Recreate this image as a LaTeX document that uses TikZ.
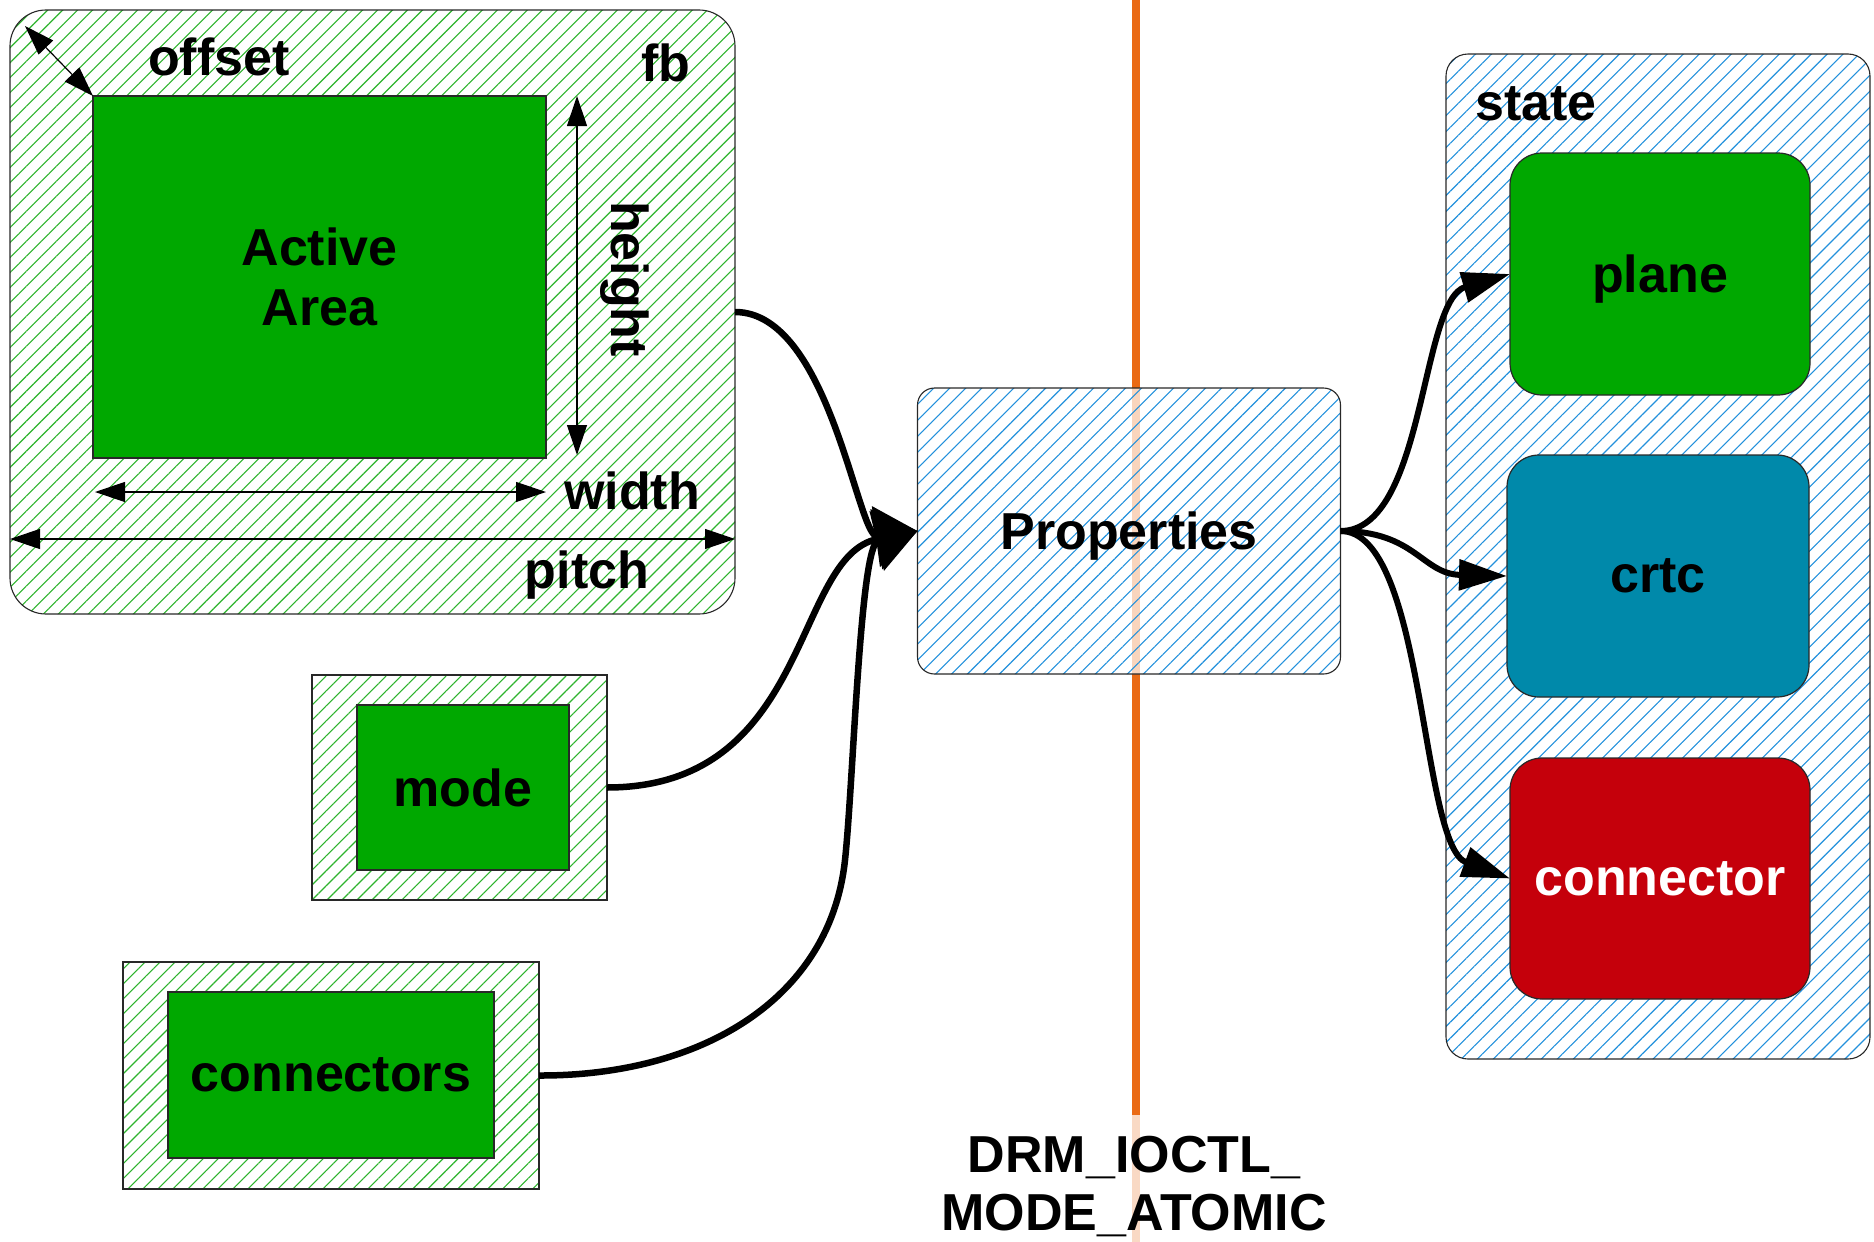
\documentclass[tikz,border=0pt]{standalone}
\usepackage{fontspec}
\setmainfont{Liberation Sans}
\usetikzlibrary{arrows.meta,patterns.meta}
\definecolor{actgreen}{RGB}{0,168,0}
\definecolor{crtcblue}{RGB}{0,137,170}
\definecolor{connred}{RGB}{197,0,11}
\definecolor{hgreen}{RGB}{45,180,45}
\definecolor{hblue}{RGB}{35,145,220}
\definecolor{ioorange}{RGB}{234,106,20}
\definecolor{edge}{RGB}{40,40,40}
\begin{document}
\begin{tikzpicture}[x=1pt,y=-1pt,
  every node/.style={inner sep=0pt,outer sep=0pt,font=\fontsize{52}{60}\selectfont\bfseries},
  greenhatch/.style={draw=edge,line width=1.1pt,pattern={Lines[angle=45,distance=10.6pt,line width=1.1pt]},pattern color=hgreen},
  bluehatch/.style={draw=edge,line width=1.1pt,pattern={Lines[angle=45,distance=11.3pt,line width=1.1pt]},pattern color=hblue},
  solidbox/.style={draw=edge,line width=1.2pt},
  dimarrow/.style={line width=1.2pt,draw=black,{Triangle[length=30pt,width=20pt]}-{Triangle[length=30pt,width=20pt]}},
  feed/.style={line width=6.5pt,-{Triangle[length=42pt,width=60pt]}},
  fan/.style={line width=6pt,-{Triangle[length=48pt,width=30pt]}}
]
\useasboundingbox (0,0) rectangle (1874,1242);
\fill[white] (0,0) rectangle (1874,1242);

% orange separator
\coordinate (ltop) at (1136,0);
\coordinate (lbot) at (1136,1242);
\draw[line width=8pt,ioorange] (ltop) -- (lbot);

% framebuffer
\node[greenhatch,rounded corners=36pt,minimum width=725pt,minimum height=604pt] (fb) at (372.5,312) {};
\node[solidbox,fill=actgreen,minimum width=453pt,minimum height=362pt,align=center] (active) at (319.5,277) {Active\\Area};
\node (fblabel) at (666,63) {fb};
\node (offsetlabel) at (219,57) {offset};
\node[rotate=-90] (heightlabel) at (625,279) {height};
\node (widthlabel) at (632,491) {width};
\node (pitchlabel) at (587,575) {pitch};

\coordinate (offA) at (25,26);
\coordinate (hA) at (577,96);
\coordinate (hB) at (577,455);
\coordinate (wA) at (95,492);
\coordinate (wB) at (546,492);
\coordinate (pA) at (10,539);
\coordinate (pB) at (735,539);
\draw[dimarrow] (offA) -- (active.north west);
\draw[dimarrow] (hA) -- (hB);
\draw[dimarrow] (wA) -- (wB);
\draw[dimarrow] (pA) -- (pB);

% mode
\node[greenhatch,minimum width=295pt,minimum height=225pt] (modeout) at (459.5,787.5) {};
\node[solidbox,fill=actgreen,minimum width=212pt,minimum height=165pt] (mode) at (463,787.5) {mode};

% connectors
\node[greenhatch,minimum width=416pt,minimum height=227pt] (connsout) at (331,1075.5) {};
\node[solidbox,fill=actgreen,minimum width=326pt,minimum height=166pt] (conns) at (331,1075) {connectors};

% properties
\node[bluehatch,rounded corners=17pt,preaction={fill=white,fill opacity=0.72},minimum width=423pt,minimum height=286pt,text depth=0pt] (prop) at (1129,531) {Properties};

% state
\node[bluehatch,rounded corners=22pt,minimum width=424pt,minimum height=1005pt] (state) at (1658,556.5) {};
\node (statelabel) at (1536,104) {state};
\node[solidbox,fill=actgreen,rounded corners=32pt,minimum width=300pt,minimum height=242pt,text depth=0pt] (plane) at (1660,274) {plane};
\node[solidbox,fill=crtcblue,rounded corners=32pt,minimum width=302pt,minimum height=242pt] (crtc) at (1658,576) {crtc};
\node[solidbox,fill=connred,text=white,rounded corners=32pt,minimum width=300pt,minimum height=241pt] (connector) at (1660,878.5) {connector};

% inputs to properties
\draw[feed] (fb.east) .. controls +(95,0) and +(-60,8) .. (prop.west);
\draw[feed] (modeout.east) .. controls +(205,0) and +(-125,25) .. (prop.west);
\draw[feed] (connsout.east) .. controls (700,1076) and (830,1000) .. (845,860) .. controls (853.6,780) and (860,545) .. (prop.west);

% properties to state
\draw[fan] (prop.east) .. controls +(85,0) and +(-90,26) .. (plane.west);
\draw[fan] (prop.east) .. controls +(75,0) and +(-85,-2) .. (crtc.west);
\draw[fan] (prop.east) .. controls +(85,0) and +(-90,-33) .. (connector.west);

% ioctl label
\node[fill=white,fill opacity=0.75,text opacity=1,align=center,inner xsep=4pt,inner ysep=22pt,font=\fontsize{52}{58}\selectfont\bfseries] (ioctl) at (1134,1187) {DRM\_IOCTL\_\\MODE\_ATOMIC};
\end{tikzpicture}
\end{document}
